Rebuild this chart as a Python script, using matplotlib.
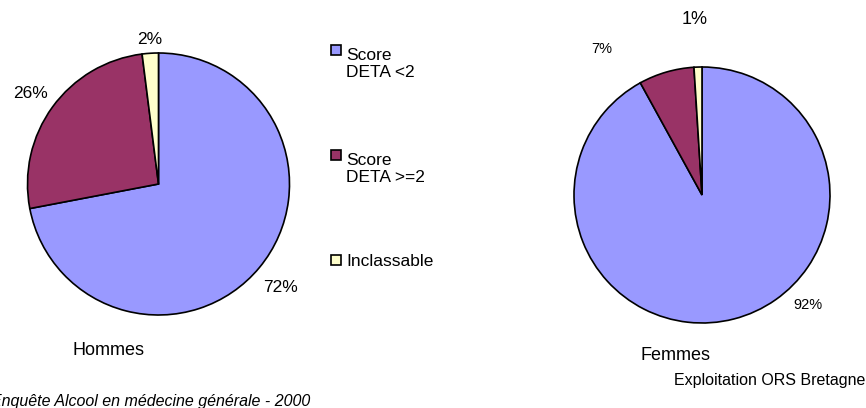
import matplotlib
matplotlib.use('Agg')
import matplotlib.pyplot as plt
import matplotlib.patches as patches

W, H = 866, 408

categories = ['Score\nDETA <2', 'Score\nDETA >=2', 'Inclassable']
colors = ['#9999FF', '#993366', '#FFFFCC']

hommes = [72, 26, 2]
femmes = [92, 7, 1]

plt.rcParams['font.family'] = ['Liberation Sans', 'DejaVu Sans']

fig = plt.figure(figsize=(W / 100, H / 100), dpi=100)
ax = fig.add_axes([0, 0, 1, 1])

def px(x, y):
    # picture coords (y down) -> data coords (y up)
    return x, H - y

wedge_style = dict(edgecolor='black', linewidth=1.2)

ax.pie(hommes, colors=colors, startangle=90, counterclock=False,
       center=px(158.5, 184), radius=131, wedgeprops=wedge_style, frame=True)
ax.pie(femmes, colors=colors, startangle=90, counterclock=False,
       center=px(702, 195), radius=128, wedgeprops=wedge_style, frame=True)

ax.set_xlim(0, W)
ax.set_ylim(0, H)
ax.set_aspect('equal')
ax.axis('off')

# percentage labels, placed by hand like the spreadsheet did
hommes_pos = [(263, 292), (13, 98), (137, 44)]
for v, (x, y) in zip(hommes, hommes_pos):
    ax.text(*px(x, y), '{}%'.format(v), fontsize=12.5, ha='left', va='baseline')

femmes_pos = [(793, 309, 10.5), (591, 53, 10.5), (682, 24, 13)]
for v, (x, y, fs) in zip(femmes, femmes_pos):
    ax.text(*px(x, y), '{}%'.format(v), fontsize=fs, ha='left', va='baseline')

# legend drawn by hand; y is the baseline of the first line
legend_y = [56, 161, 266]
line_h = 21
for cat, col, y in zip(categories, colors, legend_y):
    x0, y0 = px(331, y - 1)
    ax.add_patch(patches.Rectangle((x0, y0), 10, 10, facecolor=col,
                                   edgecolor='black', linewidth=1.2))
    n_lines = cat.count('\n')
    ax.text(*px(346, y + n_lines * line_h), cat, fontsize=12.5, ha='left',
            va='baseline', linespacing=1.2)

ax.text(*px(108, 355), 'Hommes', fontsize=13, ha='center', va='baseline')
ax.text(*px(676, 360), 'Femmes', fontsize=13, ha='center', va='baseline')

ax.text(*px(310, 406), 'Enquête Alcool en médecine générale - 2000',
        fontsize=11.5, style='italic', ha='right', va='baseline')
ax.text(*px(865, 385), 'Exploitation ORS Bretagne', fontsize=11.5,
        ha='right', va='baseline')

fig.savefig('out.png', dpi=100, facecolor='white')
